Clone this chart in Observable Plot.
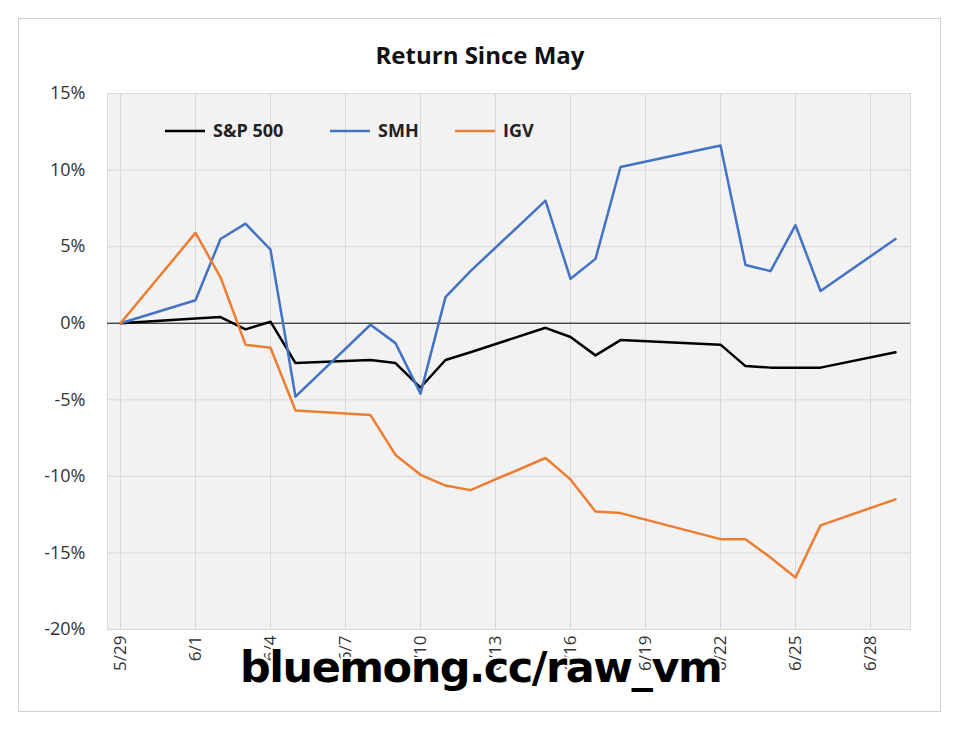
<!DOCTYPE html><html><head><meta charset="utf-8">
<script src="https://cdn.jsdelivr.net/npm/d3@7"></script>
<script src="https://cdn.jsdelivr.net/npm/@observablehq/plot@0.6"></script>
<style>body{margin:0;background:#fff;font-family:"Open Sans",Arial,sans-serif}#w{position:relative;width:960px;height:736px}
#box{position:absolute;left:18px;top:18px;width:921px;height:692px;border:1px solid #d0d0d0}
#t{position:absolute;top:38px;width:960px;text-align:center;font-weight:bold;font-size:24px;color:#111}
#wm{position:absolute;top:642px;left:240px;font-size:43px;font-weight:bold;color:#000;text-shadow:-2px -2px 0 #fff,2px -2px 0 #fff,-2px 2px 0 #fff,2px 2px 0 #fff;font-family:"DejaVu Sans",sans-serif;letter-spacing:-1.5px}</style></head>
<body><div id="w"><div id="box"></div><div id="t">Return Since May</div><div id="c" style="position:absolute;left:0;top:0"></div><div id="wm">bluemong.cc/raw_vm</div></div>
<script>
const days=[0,3,4,5,6,7,10,11,12,13,14,17,18,19,20,24,25,26,27,28,31];
const spx=[0,0.3,0.4,-0.4,0.1,-2.6,-2.4,-2.6,-4.2,-2.4,-1.9,-0.3,-0.9,-2.1,-1.1,-1.4,-2.8,-2.9,-2.9,-2.9,-1.9];
const smh=[0,1.5,5.5,6.5,4.8,-4.8,-0.1,-1.3,-4.6,1.7,3.4,8.0,2.9,4.2,10.2,11.6,3.8,3.4,6.4,2.1,5.5];
const igv=[0,5.9,3.0,-1.4,-1.6,-5.7,-6.0,-8.6,-9.9,-10.6,-10.9,-8.8,-10.2,-12.3,-12.4,-14.1,-14.1,-15.3,-16.6,-13.2,-11.5];
const tickDays=[0,3,6,9,12,15,18,21,24,27,30];
const base=Date.UTC(2025,4,29), D=86400000;
const dt=d=>new Date(base+d*D);
const series=[["S&P 500",spx,"#000000"],["SMH",smh,"#4472c4"],["IGV",igv,"#ed7d31"]];
const data=series.flatMap(([n,v])=>v.map((y,i)=>({s:n,x:dt(days[i]),y})));
const fmt=d3.utcFormat("%-m/%-d");
const p=Plot.plot({width:960,height:736,marginLeft:107,marginRight:50,marginTop:93,marginBottom:107,
style:{fontFamily:"Open Sans,Arial,sans-serif",fontSize:"17px",background:"transparent",color:"#333"},
x:{type:"utc",domain:[dt(-0.52),dt(31.6)],label:null},
y:{domain:[-20,15],label:null},
color:{domain:series.map(s=>s[0]),range:series.map(s=>s[2])},
marks:[Plot.frame({fill:"#f2f2f2",stroke:"#d9d9d9"}),
Plot.gridX(tickDays.map(dt),{stroke:"#d9d9d9",strokeOpacity:1}),
Plot.gridY([-20,-15,-10,-5,5,10,15],{stroke:"#d9d9d9",strokeOpacity:1}),
Plot.ruleY([0],{stroke:"#000",strokeWidth:1}),
Plot.line(data,{x:"x",y:"y",z:"s",stroke:"s",strokeWidth:2.5}),
Plot.axisX({ticks:tickDays.map(dt),tickFormat:fmt,tickRotate:-90,tickSize:0,tickPadding:6,textAnchor:"end",fontSize:17,label:null}),
Plot.axisY({ticks:[-20,-15,-10,-5,0,5,10,15],tickFormat:d=>d+"%",tickSize:0,tickPadding:22,fontSize:18,label:null})
]});
document.getElementById("c").appendChild(p);
const svg=d3.select(p);
const lg=[["S&P 500",165,"#000"],["SMH",330,"#4472c4"],["IGV",455,"#ed7d31"]];
lg.forEach(([n,x,c])=>{svg.append("line").attr("x1",x).attr("x2",x+40).attr("y1",131).attr("y2",131).attr("stroke",c).attr("stroke-width",2.5);
svg.append("text").attr("x",x+48).attr("y",137).attr("text-anchor","start").text(n).attr("font-weight","bold").attr("font-size",18).attr("fill","#222")});
</script></body></html>
